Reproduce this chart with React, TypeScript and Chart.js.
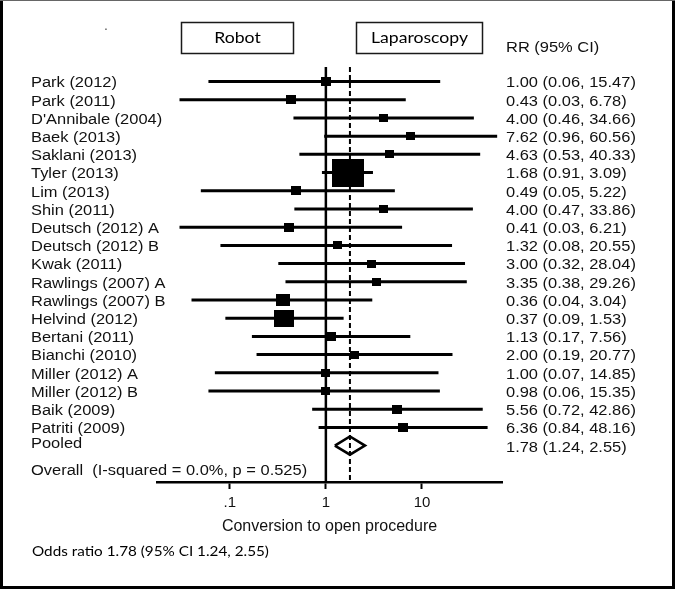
import React, { useEffect, useRef } from 'react';
import { Chart, registerables } from 'chart.js';

Chart.register(...registerables);

// ---------- data ----------
const studies = [
  'Park (2012)', 'Park (2011)', "D'Annibale (2004)", 'Baek (2013)', 'Saklani (2013)',
  'Tyler (2013)', 'Lim (2013)', 'Shin (2011)', 'Deutsch (2012) A', 'Deutsch (2012) B',
  'Kwak (2011)', 'Rawlings (2007) A', 'Rawlings (2007) B', 'Helvind (2012)', 'Bertani (2011)',
  'Bianchi (2010)', 'Miller (2012) A', 'Miller (2012) B', 'Baik (2009)', 'Patriti (2009)',
];
const rr = [1.0, 0.43, 4.0, 7.62, 4.63, 1.68, 0.49, 4.0, 0.41, 1.32, 3.0, 3.35, 0.36, 0.37, 1.13, 2.0, 1.0, 0.98, 5.56, 6.36];
const ciLow = [0.06, 0.03, 0.46, 0.96, 0.53, 0.91, 0.05, 0.47, 0.03, 0.08, 0.32, 0.38, 0.04, 0.09, 0.17, 0.19, 0.07, 0.06, 0.72, 0.84];
const ciHigh = [15.47, 6.78, 34.66, 60.56, 40.33, 3.09, 5.22, 33.86, 6.21, 20.55, 28.04, 29.26, 3.04, 1.53, 7.56, 20.77, 14.85, 15.35, 42.86, 48.16];
const weights = [2.8, 2.8, 2.5, 2.2, 2.3, 30, 3.1, 2.5, 2.8, 2.4, 2.6, 2.7, 5.5, 11, 3.0, 2.4, 2.2, 2.2, 2.8, 2.8];

const pooledLabel = 'Pooled';
const pooledRR = 1.78;
const pooledLow = 1.24;
const pooledHigh = 2.55;
const overallText = 'Overall  (I-squared = 0.0%, p = 0.525)';

const xTickValues = [0.1, 1, 10];
const xTickLabels = ['.1', '1', '10'];
const xTitle = 'Conversion to open procedure';
const leftGroup = 'Robot';
const rightGroup = 'Laparoscopy';
const rrHeader = 'RR (95% CI)';
const footnote = 'Odds ratio 1.78 (95% CI 1.24, 2.55)';

// ---------- layout / style ----------
const W = 676;
const H = 589;
const Y_MIN = -0.8;
const Y_MAX = 22;
const POOLED_ROW = studies.length;
const OVERALL_ROW = 21.42;
const HS = 1.175; // horizontal stretch of the reference picture
const ARIAL = '"Liberation Sans", Arial, sans-serif';
const CALIBRI = 'Lato, "Open Sans", sans-serif';

const fmt = (v: number) => v.toFixed(2);
const rrText = (r: number, l: number, h: number) => `${fmt(r)} (${fmt(l)}, ${fmt(h)})`;

const boxCache = new Map<number, HTMLCanvasElement>();
function boxImage(w: number): HTMLCanvasElement {
  const cached = boxCache.get(w);
  if (cached) return cached;
  const h = Math.max(6, Math.round(5.1 * Math.sqrt(w)));
  const wd = Math.round(h * 1.16);
  const c = document.createElement('canvas');
  c.width = wd;
  c.height = h;
  const g = c.getContext('2d')!;
  g.fillStyle = '#000';
  g.fillRect(0, 0, wd, h);
  boxCache.set(w, c);
  return c;
}

const textPlugin = {
  id: 'forestText',
  beforeDraw(chart: any) {
    const { ctx } = chart;
    ctx.save();
    ctx.fillStyle = '#fff';
    ctx.fillRect(0, 0, W, H);
    ctx.restore();
  },
  afterDraw(chart: any) {
    const { ctx } = chart;
    const y = chart.scales.y;
    const draw = (text: string, x: number, yy: number, font: string, align: CanvasTextAlign = 'left', color = '#111') => {
      ctx.save();
      ctx.font = font;
      ctx.fillStyle = color;
      ctx.textBaseline = 'middle';
      ctx.textAlign = align;
      ctx.translate(x, yy);
      ctx.scale(HS, 1);
      ctx.fillText(text, 0, 0);
      ctx.restore();
    };
    const rowFont = `14px ${ARIAL}`;
    studies.forEach((s, i) => {
      const py = y.getPixelForValue(i) + 2;
      draw(s, 31, py, rowFont);
      draw(rrText(rr[i], ciLow[i], ciHigh[i]), 506, py, rowFont);
    });
    const pp = y.getPixelForValue(POOLED_ROW);
    draw(pooledLabel, 31, pp - 1, rowFont);
    draw(rrText(pooledRR, pooledLow, pooledHigh), 506, pp + 3, rowFont);
    draw(overallText, 31, y.getPixelForValue(OVERALL_ROW), rowFont);

    // header
    draw(rrHeader, 506, 48, rowFont);
    draw('.', 104, 27, `12px ${ARIAL}`, 'left', '#555');
    ctx.save();
    ctx.strokeStyle = '#1a1a1a';
    ctx.lineWidth = 1.5;
    ctx.strokeRect(181.5, 22.5, 112, 31);
    ctx.strokeRect(356.5, 22.5, 126, 31);
    ctx.restore();
    draw(leftGroup, 237.5, 38, `15px ${CALIBRI}`, 'center', '#000');
    draw(rightGroup, 419.5, 38, `15px ${CALIBRI}`, 'center', '#000');

    // footnote
    draw(footnote, 32, 552, `13px ${CALIBRI}`, 'left', '#000');

    // frame
    ctx.save();
    ctx.fillStyle = '#000';
    ctx.fillRect(0, 0, 3, H);
    ctx.fillRect(672, 0, 3, H);
    ctx.fillRect(0, 586, 675, 3);
    ctx.fillStyle = '#666';
    ctx.fillRect(0, 0, 675, 1);
    ctx.restore();
  },
};

export default function App() {
  const ref = useRef<HTMLCanvasElement | null>(null);

  useEffect(() => {
    if (!ref.current) return;
    const h = 0.5;
    const datasets: any[] = [
      {
        type: 'scatter',
        label: 'studies',
        data: rr.map((v, i) => ({ x: v, y: i })),
        pointStyle: (c: any) => boxImage(weights[c.dataIndex] ?? 2),
        pointRadius: 5,
        order: 0,
      },
      {
        type: 'line',
        label: 'pooled',
        data: [
          { x: pooledLow, y: POOLED_ROW },
          { x: pooledRR, y: POOLED_ROW - h },
          { x: pooledHigh, y: POOLED_ROW },
          { x: pooledRR, y: POOLED_ROW + h },
          { x: pooledLow, y: POOLED_ROW },
        ],
        borderColor: '#000',
        backgroundColor: '#fff',
        borderWidth: 2.6,
        borderJoinStyle: 'miter',
        fill: false,
        pointRadius: 0,
        tension: 0,
        order: 1,
      },
      ...studies.map((s, i) => ({
        type: 'line',
        label: s,
        data: [
          { x: ciLow[i], y: i },
          { x: ciHigh[i], y: i },
        ],
        borderColor: '#000',
        borderWidth: 3,
        pointRadius: 0,
        order: 2,
      })),
      {
        type: 'line',
        label: 'null line',
        data: [
          { x: 1, y: Y_MIN },
          { x: 1, y: Y_MAX },
        ],
        borderColor: '#000',
        borderWidth: 2.5,
        pointRadius: 0,
        order: 3,
      },
      {
        type: 'line',
        label: 'pooled line',
        data: [
          { x: pooledRR, y: Y_MIN },
          { x: pooledRR, y: Y_MAX },
        ],
        borderColor: '#000',
        borderWidth: 2,
        borderDash: [5, 3],
        pointRadius: 0,
        order: 3,
      },
    ];

    const chart = new Chart(ref.current, {
      type: 'scatter',
      data: { datasets },
      options: {
        responsive: false,
        animation: false,
        events: [],
        devicePixelRatio: 1,
        layout: { padding: { left: 157, right: 174, top: 67, bottom: 0 } },
        plugins: { legend: { display: false }, tooltip: { enabled: false } },
        scales: {
          x: {
            type: 'logarithmic',
            position: 'bottom',
            min: 0.0175,
            max: 68,
            afterBuildTicks: (scale: any) => {
              scale.ticks = xTickValues.map((v) => ({ value: v }));
            },
            afterFit: (scale: any) => {
              scale.height = 107;
            },
            ticks: {
              callback: (_v: any, i: number) => xTickLabels[i],
              font: { family: ARIAL, size: 15 },
              color: '#111',
              padding: 5,
              maxRotation: 0,
              autoSkip: false,
            },
            grid: {
              drawOnChartArea: false,
              drawTicks: true,
              tickLength: 7,
              tickWidth: 2,
              tickColor: '#000',
            },
            border: { display: true, color: '#000', width: 2.5 },
            title: {
              display: true,
              text: xTitle,
              font: { family: ARIAL, size: 16 },
              color: '#111',
              padding: { top: 0, bottom: 53 },
            },
          },
          y: {
            type: 'linear',
            min: Y_MIN,
            max: Y_MAX,
            reverse: true,
            display: false,
          },
        },
      },
      plugins: [textPlugin],
    } as any);

    return () => chart.destroy();
  }, []);

  return (
    <div style={{ position: 'absolute', left: 0, top: 0, width: W, height: H, background: '#fff' }}>
      <canvas ref={ref} width={W} height={H} style={{ display: 'block' }} />
    </div>
  );
}
